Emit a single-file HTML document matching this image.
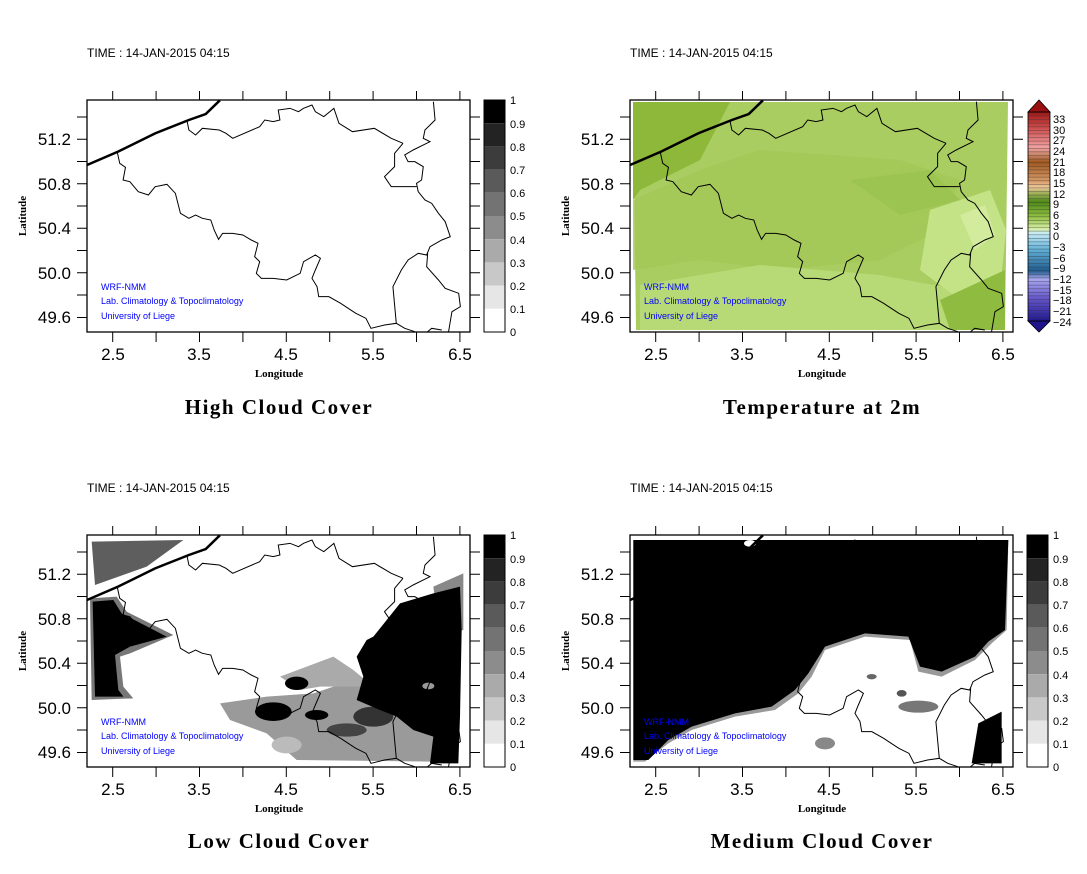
<!DOCTYPE html>
<html><head><meta charset="utf-8"><style>
body{margin:0;background:#fff}
svg text{font-family:"Liberation Sans",sans-serif}
.t{font-size:12px}
.tk{font-size:17px}
.ax{font-family:"Liberation Serif",serif!important;font-weight:bold;font-size:11px}
.ti{font-family:"Liberation Serif",serif!important;font-size:21px;letter-spacing:1.5px;font-weight:bold}
.bl{fill:#0000ff;font-size:9px}
.cb{font-size:11px}
</style></head><body>
<svg width="1087" height="869" viewBox="0 0 1087 869" xmlns="http://www.w3.org/2000/svg">
<defs>
<g id="bel" transform="translate(0,40) scale(0.33727,0.33333)" fill="none" stroke="#000">
<path vector-effect="non-scaling-stroke" stroke-width="2.5" d="M258,375 L350,335 L460,280 L560,240 L610,222 L652,181"/>
<path vector-effect="non-scaling-stroke" stroke-width="1" d="M348,338 L355,370 L372,382 L365,420 L385,425 L410,455 L440,465 L460,440 L495,433 L520,460 L535,520 L560,535 L580,525 L600,535 L625,540 L635,570 L648,598 L660,580 L690,580 L720,585 L745,600 L765,610 L755,650 L770,665 L760,700 L775,715 L810,715 L850,720 L890,700 L900,665 L935,645 L950,655 L935,690 L925,715 L940,740 L945,770 L975,770 L1010,790 L1025,800 L1055,820 L1085,835 L1100,865 L1140,855 L1175,850 L1200,865 L1230,875
M1175,850 L1165,740 L1190,690 L1210,660 L1240,640 L1265,645 L1275,620 L1310,600 L1335,590 L1320,545 L1300,520 L1280,490 L1260,480 L1240,455 L1235,430 L1250,420 L1255,380 L1230,365 L1210,365 L1200,345 L1225,330 L1275,305 L1255,295 L1260,270 L1290,240 L1285,185
M1195,310 L1170,340 L1170,380 L1140,410 L1160,440 L1235,440
M1195,310 L1160,295 L1110,265 L1045,275 L1005,250 L990,205 L960,230 L935,215 L925,195 L900,205 L885,215 L860,205 L825,210 L830,240 L810,245 L785,240 L770,260 L690,295 L670,280 L650,270 L600,265 L580,285 L560,270 L555,245
M1268,640 L1265,680 L1300,720 L1320,745 L1360,760 L1365,800 L1340,815 L1330,875 M1268,875 L1280,865 L1310,870"/>
</g>
<g id="frame">
<rect x="87" y="100" width="383" height="232" fill="none" stroke="#000" stroke-width="1.3"/>
<path stroke="#000" stroke-width="1" d="M112.7,91V100M156.1,91V100M199.5,91V100M242.9,91V100M286.3,91V100M329.7,91V100M373.1,91V100M416.5,91V100M459.9,91V100
M112.7,332V342M156.1,332V342M199.5,332V342M242.9,332V342M286.3,332V342M329.7,332V342M373.1,332V342M416.5,332V342M459.9,332V342
M77,117H87M77,139.3H87M77,161.5H87M77,183.8H87M77,206H87M77,228.3H87M77,250.5H87M77,272.8H87M77,295H87M77,317.5H87
M470,117H480M470,139.3H480M470,161.5H480M470,183.8H480M470,206H480M470,228.3H480M470,250.5H480M470,272.8H480M470,295H480M470,317.5H480"/>
<g class="tk" text-anchor="end"><text x="71" y="145">51.2</text><text x="71" y="190">50.8</text><text x="71" y="234">50.4</text><text x="71" y="279">50.0</text><text x="71" y="323">49.6</text></g>
<g class="tk" text-anchor="middle"><text x="113" y="360">2.5</text><text x="199" y="360">3.5</text><text x="286" y="360">4.5</text><text x="373" y="360">5.5</text><text x="460" y="360">6.5</text></g>
<text class="ax" x="279" y="377" text-anchor="middle">Longitude</text>
<text class="ax" x="26" y="216" text-anchor="middle" transform="rotate(-90 26 216)">Latitude</text>
<text class="t" x="87" y="57">TIME : 14-JAN-2015 04:15</text>
<text class="bl" x="101" y="290">WRF-NMM</text>
<text class="bl" x="101" y="304">Lab. Climatology &amp; Topoclimatology</text>
<text class="bl" x="101" y="319">University of Liege</text>
</g>
<g id="gbar">
<rect x="484" y="100" width="21" height="23.2" fill="#000"/>
<rect x="484" y="123.2" width="21" height="23.2" fill="#232323"/>
<rect x="484" y="146.4" width="21" height="23.2" fill="#3c3c3c"/>
<rect x="484" y="169.6" width="21" height="23.2" fill="#5a5a5a"/>
<rect x="484" y="192.8" width="21" height="23.2" fill="#737373"/>
<rect x="484" y="216" width="21" height="23.2" fill="#8c8c8c"/>
<rect x="484" y="239.2" width="21" height="23.2" fill="#aaaaaa"/>
<rect x="484" y="262.4" width="21" height="23.2" fill="#c8c8c8"/>
<rect x="484" y="285.6" width="21" height="23.2" fill="#e6e6e6"/>
<rect x="484" y="308.8" width="21" height="23.2" fill="#fff"/>
<rect x="484" y="100" width="21" height="232" fill="none" stroke="#000"/>
<g class="cb"><text x="510" y="104">1</text><text x="510" y="128">0.9</text><text x="510" y="151">0.8</text><text x="510" y="174">0.7</text><text x="510" y="197">0.6</text><text x="510" y="220">0.5</text><text x="510" y="244">0.4</text><text x="510" y="267">0.3</text><text x="510" y="290">0.2</text><text x="510" y="313">0.1</text><text x="510" y="336">0</text></g>
</g>
<linearGradient id="tg" x1="0" y1="0" x2="0" y2="1">
<stop offset="0" stop-color="#a01818"/><stop offset="0.08" stop-color="#d05050"/><stop offset="0.17" stop-color="#f0a0a0"/><stop offset="0.2" stop-color="#d08a70"/><stop offset="0.24" stop-color="#a0581e"/><stop offset="0.33" stop-color="#d89a68"/><stop offset="0.36" stop-color="#f0c898"/><stop offset="0.39" stop-color="#a0b058"/><stop offset="0.43" stop-color="#4e8a18"/><stop offset="0.5" stop-color="#90c040"/><stop offset="0.56" stop-color="#d8f0a8"/><stop offset="0.58" stop-color="#c8ecf8"/><stop offset="0.66" stop-color="#60b0d8"/><stop offset="0.76" stop-color="#205c90"/><stop offset="0.8" stop-color="#a8a8f0"/><stop offset="0.9" stop-color="#6050c8"/><stop offset="1" stop-color="#201890"/>
</linearGradient>
<pattern id="bands" width="22" height="3.6" patternUnits="userSpaceOnUse" y="112"><rect width="22" height="0.6" fill="#333" opacity="0.6"/></pattern>
</defs>

<use href="#bel"/>
<use href="#frame"/>
<use href="#gbar"/>
<text class="ti" x="279" y="414" text-anchor="middle">High Cloud Cover</text>

<g>
<path d="M633,102 H1008 L1005,330 H636 Z" fill="#a9cd60"/>
<path d="M633,102 H730 L700,160 L640,190 L633,200 Z" fill="#8db83a"/>
<path d="M633,200 L700,170 L760,150 L900,160 L960,180 L940,230 L880,260 L780,270 L700,260 L633,270 Z" fill="#a2c858" opacity="0.8"/>
<path d="M640,285 L760,265 L880,275 L960,290 L1005,285 L1005,330 L640,330 Z" fill="#b8da76"/>
<path d="M930,210 L990,190 L1006,230 L1000,290 L960,300 L920,270 Z" fill="#c4e386"/>
<path d="M960,215 L985,205 L995,235 L975,250 Z" fill="#d2eb9c"/>
<path d="M940,300 L1005,270 L1005,330 L950,330 Z" fill="#8fbb40"/>
<path d="M850,180 L930,170 L960,200 L900,215 Z" fill="#9cc450"/>
</g>
<g transform="translate(543,0)"><use href="#bel"/><use href="#frame"/></g>
<rect x="1028" y="112" width="22" height="209" fill="url(#tg)"/>
<rect x="1028" y="112" width="22" height="209" fill="url(#bands)"/>
<path d="M1028,112 L1039,100 L1050,112 Z" fill="#9a1010" stroke="#000" stroke-width="0.8"/>
<path d="M1028,321 L1039,332 L1050,321 Z" fill="#20148c" stroke="#000" stroke-width="0.8"/>
<rect x="1028" y="112" width="22" height="209" fill="none" stroke="#000" stroke-width="0.8"/>
<g class="cb" font-size="11">
<text x="1053" y="123">33</text><text x="1053" y="134">30</text><text x="1053" y="144">27</text><text x="1053" y="155">24</text><text x="1053" y="166">21</text><text x="1053" y="176">18</text><text x="1053" y="187">15</text><text x="1053" y="198">12</text><text x="1053" y="208">9</text><text x="1053" y="219">6</text><text x="1053" y="230">3</text><text x="1053" y="240">0</text><text x="1053" y="251">−3</text><text x="1053" y="262">−6</text><text x="1053" y="272">−9</text><text x="1053" y="283">−12</text><text x="1053" y="294">−15</text><text x="1053" y="304">−18</text><text x="1053" y="315">−21</text><text x="1053" y="326">−24</text></g>
<text class="ti" x="822" y="414" text-anchor="middle">Temperature at 2m</text>

<g transform="translate(80,530) scale(0.33333)">
<polygon points="35,35 310,30 200,110 45,165" fill="#5e5e5e"/>
<polygon points="30,205 110,200 140,245 280,315 150,370 120,380 130,470 160,505 35,510" fill="#777"/>
<polygon points="38,215 100,210 125,250 260,320 150,350 105,375 115,480 130,500 45,500" fill="#000"/>
<polygon points="420,520 560,500 700,490 820,450 900,500 960,560 1060,620 1060,695 650,690 560,610 450,570" fill="#9a9a9a"/>
<polygon points="600,440 760,380 820,420 880,470 800,470 720,470 660,480" fill="#aaa"/>
<ellipse cx="650" cy="460" rx="35" ry="20" fill="#000"/>
<ellipse cx="580" cy="545" rx="55" ry="28" fill="#000"/>
<ellipse cx="710" cy="555" rx="35" ry="15" fill="#000"/>
<ellipse cx="800" cy="600" rx="60" ry="20" fill="#444"/>
<ellipse cx="880" cy="560" rx="60" ry="30" fill="#333"/>
<ellipse cx="620" cy="645" rx="45" ry="25" fill="#bbb"/>
<polygon points="1060,170 1150,130 1150,300 1080,320" fill="#888"/>
<polygon points="880,320 960,220 1060,190 1140,170 1145,300 1140,560 1135,700 1050,700 1060,620 1000,600 950,560 900,540 830,510 850,440 830,380 860,330" fill="#000"/>
<ellipse cx="1045" cy="468" rx="18" ry="10" fill="#999"/>
</g>
<g transform="translate(0,435)"><use href="#bel"/><use href="#frame"/><use href="#gbar"/></g>
<text class="ti" x="279" y="848" text-anchor="middle">Low Cloud Cover</text>

<g transform="translate(625,530) scale(0.33333)">
<polygon points="25,30 1150,30 1145,300 1100,340 1050,390 950,440 880,425 855,330 720,320 600,360 560,440 520,490 450,540 330,560 200,600 130,640 60,695 25,695" fill="#999"/>
<polygon points="25,30 1150,30 1140,300 1090,335 1050,380 950,425 885,410 850,320 720,310 600,350 550,430 510,480 440,530 330,550 200,590 130,630 70,690 25,690" fill="#000"/>
<polygon points="1060,580 1130,545 1130,700 1040,700" fill="#000"/>
<ellipse cx="600" cy="640" rx="30" ry="18" fill="#888"/>
<ellipse cx="880" cy="530" rx="60" ry="18" fill="#777"/>
<ellipse cx="830" cy="490" rx="15" ry="10" fill="#555"/>
<ellipse cx="740" cy="440" rx="15" ry="8" fill="#666"/>
<ellipse cx="375" cy="40" rx="18" ry="10" fill="#fff"/>
</g>
<g transform="translate(543,435)"><use href="#bel"/><use href="#frame"/><use href="#gbar"/></g>
<text class="ti" x="822" y="848" text-anchor="middle">Medium Cloud Cover</text>
</svg>
</body></html>
